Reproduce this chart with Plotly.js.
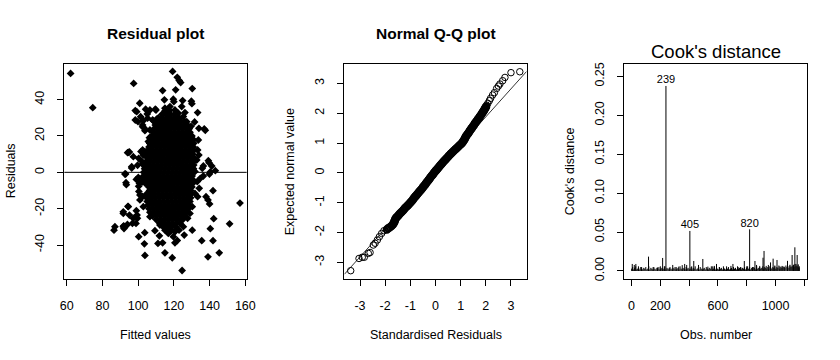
<!DOCTYPE html>
<html>
<head>
<meta charset="utf-8">
<script src="https://cdn.plot.ly/plotly-3.0.1.min.js"></script>
<style>html,body{margin:0;padding:0;background:#fff;}#plot{width:840px;height:360px;}</style>
</head>
<body>
<div id="plot"></div>
<script>
// ---------- Residual plot: individually read points [fitted, residual] ----------
const residOuterPoints = [
 [62.2,54.4],[74.6,35.6],[97.5,48.9],[119.3,55.5],[121.9,52.3],[123.0,50.5],[123.8,49.4],
 [130.3,46.1],[121.0,45.4],[113.7,45.0],[114.7,39.9],[119.7,40.2],[120.0,38.9],[124.9,39.5],
 [100.9,38.0],[129.8,39.1],[130.1,37.8],[104.2,34.7],[98.4,34.0],[106.6,34.3],[109.6,34.7],
 [133.3,32.9],[98.4,28.8],[99.9,27.9],[102.5,26.1],[103.5,24.2],[105.3,29.8],[108.1,28.8],
 [110.4,29.2],[116.0,33.0],[131.6,27.7],[134.0,24.2],[137.0,23.9],[137.6,23.1],[129.6,25.3],
 [106.3,19.1],[95.1,11.2],[94.1,10.8],[101.6,11.4],[102.5,12.3],[134.0,9.5],[139.3,6.4],
 [139.7,5.3],[100.3,7.7],[102.2,5.9],[102.5,4.6],[136.5,3.5],[135.9,2.2],[141.2,3.5],
 [143.2,0.9],[96.4,2.4],[99.7,3.9],[93.0,-0.9],[134.8,-3.3],[136.5,-2.0],[139.9,-0.9],
 [140.4,0.2],[93.4,-6.8],[99.0,-3.9],[100.1,-2.8],[104.4,-13.4],[134.2,-8.8],[133.3,-13.4],
 [141.9,-10.1],[138.0,-13.4],[139.1,-15.2],[140.0,-17.4],[157.0,-16.9],[94.3,-18.7],
 [99.0,-21.1],[99.4,-23.5],[99.6,-25.3],[96.8,-28.1],[94.0,-28.7],[92.6,-29.9],[91.7,-22.6],
 [91.9,-29.4],[92.1,-30.9],[86.5,-31.8],[142.3,-25.5],[151.2,-28.3],[140.4,-31.0],
 [100.3,-35.4],[103.7,-33.2],[103.5,-39.3],[103.8,-45.7],[111.9,-34.9],[111.1,-39.1],
 [113.7,-38.8],[115.0,-44.3],[119.1,-47.0],[124.6,-54.0],[121.9,-37.5],[120.6,-38.8],
 [135.6,-37.6],[141.9,-37.6],[139.1,-46.5],[145.4,-44.3],[130.3,-31.8],[125.8,-34.5],
 [109.4,-32.1],[116.9,-33.6],[118.4,-31.8],
 [99.2,33.4],[101.4,30.6],[102.9,28.4],[105.1,32.1],[108.5,28.4],[110.0,34.3],[102.5,25.1],
 [103.8,22.9],[107.6,18.7],[106.6,15.9],[94.5,11.0],[97.3,8.6],[96.4,3.1],[103.8,11.4],
 [102.9,9.5],[105.7,6.8],[103.8,3.1],[92.6,-0.9],[93.2,-5.7],[100.1,-3.3],[100.7,-6.0],
 [100.3,-7.7],[100.4,-10.5],[101.0,-12.5],[102.4,-13.3],[102.2,-5.3],[104.8,-6.0],[106.3,-11.6],
 [94.5,-18.9],[91.7,-21.7],[95.1,-23.5],[97.3,-25.3],[98.8,-28.1],[87.0,-29.9],[91.7,-29.9],
 [101.0,-15.2],[102.9,-18.9],[106.6,-24.4],[110.4,-22.6],[112.2,-29.0],
 [133.7,17.8],[133.3,12.3],[132.8,6.8],[131.8,0.4],[133.1,-5.1],[131.8,-11.6],[130.3,-18.9],
 [129.0,-22.6],[127.7,-25.3],[125.3,-29.9],[122.9,-31.8],[115.0,35.3],[117.8,36.2],
 [120.6,34.3],[122.5,32.5],[125.3,30.7],[127.2,27.9],[124.4,36.2],[126.2,32.9],
 [106.6,23.3],[105.7,16.9],[104.8,11.4],[114.1,-29.9],[115.0,-31.8],[120.6,-32.7],[119.7,-35.4]
];
// ---------- Residual plot: dense core, one row per residual level [residual, fitted values] ----------
const residCoreRows = [
 [34,[115.2,117.6]],
 [32,[113.4,115.8,118.1,120.5]],
 [30,[111.3,113.6,116.0,118.2,120.6,122.9]],
 [28,[110.2,112.5,114.8,117.1,119.4,121.7,124.0,126.1]],
 [26,[109.6,111.9,114.2,116.5,118.8,121.1,123.4,125.7,127.6]],
 [24,[109.0,111.3,113.6,115.9,118.2,120.5,122.8,125.1,127.4,128.6]],
 [22,[108.5,110.8,113.1,115.4,117.7,120.0,122.3,124.6,126.9,129.0]],
 [20,[107.6,109.9,112.2,114.5,116.8,119.1,121.4,123.7,126.0,128.3,130.1]],
 [18,[107.1,109.4,111.7,114.0,116.3,118.6,120.9,123.2,125.5,127.8,130.0,131.0]],
 [16,[106.5,108.8,111.1,113.4,115.7,118.0,120.3,122.6,124.9,127.2,129.5,131.1]],
 [14,[106.1,107.9,110.2,112.5,114.8,117.1,119.4,121.7,124.0,126.3,128.6,130.9]],
 [12,[106.0,108.3,110.6,112.9,115.2,117.5,119.8,122.1,124.4,126.7,129.0,131.1]],
 [10,[105.5,107.6,109.9,112.2,114.5,116.8,119.1,121.4,123.7,126.0,128.3,130.6]],
 [8,[105.1,107.2,109.5,111.8,114.1,116.4,118.7,121.0,123.3,125.6,127.9,130.2,131.2]],
 [6,[104.6,106.6,108.9,111.2,113.5,115.8,118.1,120.4,122.7,125.0,127.3,129.6,131.0]],
 [4,[104.1,106.1,108.4,110.7,113.0,115.3,117.6,119.9,122.2,124.5,126.8,129.1,131.1]],
 [2,[103.6,105.7,108.0,110.3,112.6,114.9,117.2,119.5,121.8,124.1,126.4,128.7,131.0]],
 [0,[103.1,105.2,107.5,109.8,112.1,114.4,116.7,119.0,121.3,123.6,125.9,128.2,130.5]],
 [-2,[103.0,104.8,107.1,109.4,111.7,114.0,116.3,118.6,120.9,123.2,125.5,127.8,130.2]],
 [-4,[103.2,105.5,107.8,110.1,112.4,114.7,117.0,119.3,121.6,123.9,126.2,128.5,130.5]],
 [-6,[104.0,106.3,108.6,110.9,113.2,115.5,117.8,120.1,122.4,124.7,127.0,129.3,130.6]],
 [-8,[106.0,108.1,110.4,112.7,115.0,117.3,119.6,121.9,124.2,126.5,128.8,130.1]],
 [-10,[106.4,108.7,111.0,113.3,115.6,117.9,120.2,122.5,124.8,127.1,129.4]],
 [-12,[104.6,106.9,109.2,111.5,113.8,116.1,118.4,120.7,123.0,125.3,127.6,129.5]],
 [-14,[104.8,107.1,109.4,111.7,114.0,116.3,118.6,120.9,123.2,125.5,127.8,129.4]],
 [-16,[105.1,107.4,109.7,112.0,114.3,116.6,118.9,121.2,123.5,125.8,128.1,129.0]],
 [-18,[105.6,107.9,110.2,112.5,114.8,117.1,119.4,121.7,124.0,126.3,128.5]],
 [-20,[106.1,108.4,110.7,113.0,115.3,117.6,119.9,122.2,124.5,126.8,128.0]],
 [-22,[106.6,108.9,111.2,113.5,115.8,118.1,120.4,122.7,125.0,127.0]],
 [-24,[108.1,110.4,112.7,115.0,117.3,119.6,121.9,124.2,126.0]],
 [-26,[110.1,112.4,114.7,117.0,119.3,121.6,123.9,125.0]],
 [-28,[112.1,114.4,116.7,119.0,121.3,123.4]],
 [-30,[114.2,116.5,118.8,121.1]],
 [-32,[116.3,118.6]]
];
const residXTicks = [60,80,100,120,140,160];
const residYTicks = [-40,-20,0,20,40];
const residYTickText = ['-40','-20','0','20','40'];

// ---------- Normal Q-Q plot: [standardised residual, expected normal value] ----------
const qqLowerTail = [
 [-3.37,-3.28],[-3.04,-2.87],[-2.91,-2.83],[-2.83,-2.83],[-2.67,-2.70],[-2.60,-2.67],
 [-2.47,-2.42],[-2.40,-2.36],[-2.31,-2.25],[-2.23,-2.14],[-2.14,-2.03],[-2.05,-1.94]
];
const qqBand = [
 [-1.93,-1.90],[-1.88,-1.86],[-1.81,-1.82],[-1.75,-1.78],[-1.70,-1.74],[-1.67,-1.70],
 [-1.64,-1.66],[-1.63,-1.62],[-1.61,-1.58],[-1.59,-1.54],[-1.56,-1.50],[-1.51,-1.46],
 [-1.47,-1.42],[-1.43,-1.38],[-1.38,-1.34],[-1.34,-1.30],[-1.29,-1.26],[-1.25,-1.22],
 [-1.21,-1.18],[-1.16,-1.14],[-1.11,-1.10],[-1.07,-1.06],[-1.02,-1.02],[-0.98,-0.98],
 [-0.94,-0.94],[-0.90,-0.90],[-0.87,-0.86],[-0.83,-0.82],[-0.79,-0.78],[-0.75,-0.74],
 [-0.71,-0.70],[-0.67,-0.66],[-0.63,-0.62],[-0.59,-0.58],[-0.55,-0.54],[-0.51,-0.50],
 [-0.48,-0.46],[-0.44,-0.42],[-0.40,-0.38],[-0.37,-0.34],[-0.33,-0.30],[-0.29,-0.26],
 [-0.26,-0.22],[-0.22,-0.18],[-0.19,-0.14],[-0.15,-0.10],[-0.11,-0.06],[-0.08,-0.02],
 [-0.04,0.02],[0.00,0.06],[0.04,0.10],[0.08,0.14],[0.12,0.18],[0.16,0.22],[0.20,0.26],
 [0.24,0.30],[0.28,0.34],[0.32,0.38],[0.37,0.42],[0.41,0.46],[0.45,0.50],[0.50,0.54],
 [0.54,0.58],[0.59,0.62],[0.63,0.66],[0.68,0.70],[0.73,0.74],[0.78,0.78],[0.83,0.82],
 [0.88,0.86],[0.93,0.90],[0.98,0.94],[1.03,0.98],[1.07,1.02],[1.10,1.06],[1.14,1.10],
 [1.16,1.14],[1.18,1.18],[1.21,1.22],[1.24,1.26],[1.28,1.30],[1.31,1.34],[1.34,1.38],
 [1.37,1.42],[1.41,1.46],[1.44,1.50],[1.47,1.54],[1.51,1.58],[1.54,1.62],[1.57,1.66],
 [1.60,1.70],[1.64,1.74],[1.67,1.78],[1.71,1.82],[1.74,1.86],[1.77,1.90],[1.81,1.94],
 [1.84,1.98],[1.87,2.02],[1.90,2.06],[1.93,2.10],[1.96,2.14],[1.98,2.18],[2.01,2.22]
];
const qqUpperTail = [
 [2.03,2.27],[2.08,2.33],[2.14,2.42],[2.19,2.50],[2.27,2.61],[2.34,2.69],[2.43,2.83],
 [2.50,2.91],[2.56,2.98],[2.67,3.09],[2.76,3.20],[3.00,3.36],[3.35,3.39]
];
const qqLineX = [-3.62, 3.62];
const qqLineY = [-3.40, 3.40];
const qqTicks = [-3,-2,-1,0,1,2,3];
const qqTickText = ['-3','-2','-1','0','1','2','3'];

// ---------- Cook's distance ----------
const cookBaseStep = 7; // small background distances, one every 7th observation starting at obs 1
const cookBase = [
 0.003,0.005,0.002,0.004,0.006,0.002,0.003,0.004,0.002,0.005,
 0.003,0.002,0.004,0.003,0.005,0.002,0.003,0.006,0.002,0.004,
 0.003,0.002,0.005,0.003,0.002,0.004,0.003,0.005,0.002,0.003,
 0.004,0.002,0.003,0.006,0.002,0.004,0.003,0.002,0.005,0.003,
 0.002,0.004,0.003,0.005,0.002,0.003,0.004,0.002,0.006,0.003,
 0.002,0.004,0.003,0.002,0.005,0.003,0.004,0.002,0.003,0.005,
 0.002,0.004,0.003,0.006,0.002,0.003,0.004,0.002,0.005,0.003,
 0.002,0.003,0.004,0.002,0.005,0.003,0.002,0.004,0.003,0.006,
 0.002,0.003,0.005,0.002,0.004,0.003,0.002,0.005,0.003,0.004,
 0.002,0.006,0.003,0.002,0.004,0.003,0.005,0.002,0.003,0.004,
 0.002,0.005,0.003,0.004,0.002,0.006,0.003,0.004,0.005,0.002,
 0.004,0.003,0.005,0.002,0.004,0.006,0.003,0.005,0.002,0.004,
 0.003,0.005,0.004,0.002,0.006,0.003,0.004,0.005,0.003,0.004,
 0.006,0.003,0.005,0.004,0.002,0.005,0.003,0.006,0.004,0.003,
 0.005,0.004,0.006,0.003,0.005,0.004,0.007,0.003,0.005,0.004,
 0.006,0.005,0.004,0.007,0.005,0.006,0.004,0.008,0.005,0.006,
 0.007,0.005,0.009,0.006,0.007,0.005,0.004
];
const cookSpikeObs = [5,19,30,48,70,118,150,180,200,216,228,239,262,286,310,328,352,369,383,405,
 418,432,465,495,530,564,575,590,610,640,660,690,704,740,760,783,800,820,840,857,868,890,
 913,920,935,950,965,983,995,1010,1030,1045,1060,1083,1100,1115,1125,1134,1142,1150,1158,1165];
const cookSpikeD = [0.009,0.0077,0.009,0.006,0.005,0.0184,0.005,0.0045,0.006,0.0167,0.006,0.2376,0.004,
 0.0077,0.005,0.0056,0.0075,0.009,0.0077,0.0514,0.006,0.0128,0.0077,0.0154,0.0056,0.006,0.0065,
 0.009,0.005,0.004,0.006,0.0065,0.009,0.005,0.0045,0.0128,0.006,0.0535,0.005,0.0128,0.0077,0.0065,
 0.017,0.0257,0.0065,0.0077,0.011,0.0158,0.007,0.0141,0.006,0.0065,0.0055,0.013,0.007,0.0205,
 0.008,0.0304,0.009,0.0205,0.0085,0.006];
const cookLabelObs = [239,405,820];
const cookXTicks = [0,200,400,600,800,1000,1200];
const cookXTickText = ['0','200','','600','','1000',''];
const cookYTicks = [0,0.05,0.10,0.15,0.20,0.25];
const cookYTickText = ['0.00','0.05','0.10','0.15','0.20','0.25'];

// ---------- build traces ----------
const fitted = [], resid = [];
residOuterPoints.forEach(p => { fitted.push(p[0]); resid.push(p[1]); });
residCoreRows.forEach(r => r[1].forEach(x => { fitted.push(x); resid.push(r[0]); }));

const cookObs = [], cookD = [];
cookBase.forEach((d, i) => { cookObs.push(1 + i * cookBaseStep); cookD.push(d); });
cookSpikeObs.forEach((o, i) => { cookObs.push(o); cookD.push(cookSpikeD[i]); });
// vertical "h"-type lines: from 0 up to each distance
const hx = [], hy = [];
cookObs.forEach((o, i) => { hx.push(o, o, null); hy.push(0, cookD[i], null); });
const labelY = cookLabelObs.map(o => cookSpikeD[cookSpikeObs.indexOf(o)]);

const FONT = '"Liberation Sans", Arial, Helvetica, sans-serif';

function qqTrace(pairs, lw, size) {
  return {type:'scatter', mode:'markers', x:pairs.map(p=>p[0]), y:pairs.map(p=>p[1]), xaxis:'x2', yaxis:'y2',
    marker:{symbol:'circle-open', size:size, color:'black', line:{width:lw, color:'black'}}, hoverinfo:'skip'};
}

const traces = [
 {type:'scatter', mode:'markers', x:fitted, y:resid, xaxis:'x', yaxis:'y',
  marker:{symbol:'diamond', size:6, color:'black', line:{width:0}}, hoverinfo:'skip'},
 {type:'scatter', mode:'lines', x:qqLineX, y:qqLineY, xaxis:'x2', yaxis:'y2',
  line:{color:'black', width:0.8}, hoverinfo:'skip'},
 qqTrace(qqLowerTail, 1, 6.5),
 qqTrace(qqBand, 2, 6.5),
 qqTrace(qqUpperTail, 1, 6.5),
 {type:'scatter', mode:'lines', x:hx, y:hy, xaxis:'x3', yaxis:'y3', connectgaps:false,
  line:{color:'black', width:1}, hoverinfo:'skip'},
 {type:'scatter', mode:'text', x:cookLabelObs, y:labelY, text:cookLabelObs.map(String),
  textposition:'top center', textfont:{size:11, family:FONT, color:'black'}, xaxis:'x3', yaxis:'y3',
  hoverinfo:'skip', cliponaxis:false}
];

const axBase = {showline:true, mirror:true, linecolor:'black', linewidth:1, ticks:'outside',
 ticklen:6, tickwidth:1, tickcolor:'black', showgrid:false, zeroline:false, fixedrange:true,
 tickfont:{size:12.5, family:FONT, color:'black'}, automargin:false};
const yDom = [0.2259, 0.8222];

const layout = {
 width:840, height:360, margin:{l:0,r:0,t:0,b:0}, paper_bgcolor:'white', plot_bgcolor:'white',
 showlegend:false, font:{family:FONT, color:'black', size:12.5},
 xaxis:Object.assign({}, axBase, {domain:[0.07659,0.29365], range:[58.69,160.75], anchor:'y',
   tickvals:residXTicks, ticklabelstandoff:9}),
 yaxis:Object.assign({}, axBase, {domain:yDom, range:[-58.5,59.6], anchor:'x',
   tickvals:residYTicks, ticktext:residYTickText, tickangle:-90, ticklabelstandoff:8}),
 xaxis2:Object.assign({}, axBase, {domain:[0.40992,0.62698], range:[-3.623,3.623], anchor:'y2',
   tickvals:qqTicks, ticktext:qqTickText, ticklabelstandoff:9}),
 yaxis2:Object.assign({}, axBase, {domain:yDom, range:[-3.548,3.65], anchor:'x2',
   tickvals:qqTicks, ticktext:qqTickText, tickangle:-90, ticklabelstandoff:8}),
 xaxis3:Object.assign({}, axBase, {domain:[0.74325,0.96032], range:[-50,1216], anchor:'y3',
   tickvals:cookXTicks, ticktext:cookXTickText, ticklabelstandoff:9}),
 yaxis3:Object.assign({}, axBase, {domain:yDom, range:[-0.0099,0.2658], anchor:'x3',
   tickvals:cookYTicks, ticktext:cookYTickText, tickangle:-90, ticklabelstandoff:8}),
 shapes:[{type:'line', xref:'x domain', x0:0, x1:1, yref:'y', y0:0, y1:0, line:{color:'black', width:1}}],
 annotations:[
  {text:'<b>Residual plot</b>', x:0.1851, y:0.9083, font:{size:15.5}},
  {text:'<b>Normal Q-Q plot</b>', x:0.5185, y:0.9083, font:{size:15.5}},
  {text:"Cook's distance", x:0.8518, y:0.8564, font:{size:18.5}},
  {text:'Fitted values', x:0.1851, y:0.0694},
  {text:'Standardised Residuals', x:0.5185, y:0.0694},
  {text:'Obs. number', x:0.8518, y:0.0694},
  {text:'Residuals', x:0.0131, y:0.5241, textangle:-90},
  {text:'Expected normal value', x:0.3452, y:0.5241, textangle:-90},
  {text:"Cook's distance", x:0.6786, y:0.5241, textangle:-90}
 ].map(a => Object.assign({xref:'paper', yref:'paper', showarrow:false, xanchor:'center', yanchor:'middle'}, a))
};

Plotly.newPlot('plot', traces, layout, {staticPlot:true, displayModeBar:false});
</script>
</body>
</html>
